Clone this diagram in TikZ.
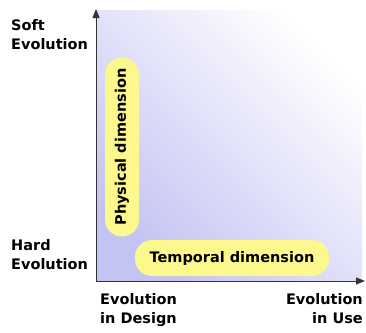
\documentclass[tikz,border=0pt]{standalone}
\usepackage{fontspec}
\setmainfont{DejaVu Sans}
\usepackage{xcolor}
\usetikzlibrary{arrows.meta,positioning,shapes.geometric,calc}
\definecolor{lav}{HTML}{C4C4F4}
\definecolor{pill}{HTML}{FCF88E}
\tikzset{
  axislbl/.style={font=\bfseries\fontsize{14.5}{19}\selectfont, align=left, inner sep=0pt},
  dimpill/.style={rectangle, rounded corners=17pt, fill=pill,
                  font=\bfseries\fontsize{14.5}{16}\selectfont, inner sep=0pt},
  axisline/.style={draw=black!80, line width=1pt, -{Triangle[length=9pt,width=7pt]}},
}

\begin{document}
\begin{tikzpicture}[x=1pt, y=-1pt]
    \useasboundingbox (0,0) rectangle (366,332);
    % background of the plane
    \shade[shading=axis, top color=white, bottom color=lav, shading angle=-45]
      (97,10) rectangle (362,281);
    \coordinate (O) at (96,281);
    \coordinate (ytop) at (96,9);
    \coordinate (xend) at (365,281);
    \draw[axisline] (O) -- (ytop);
    \draw[axisline] (O) -- (xend);
    % the two dimensions
    \node[dimpill, rotate=90, minimum width=179pt, minimum height=34pt] (phys) at (122,147) {Physical dimension};
    \node[dimpill, minimum width=194pt, minimum height=36pt] (temp) at (232,258) {Temporal dimension};
    % axis labels
    \node[axislbl, anchor=north west] (soft) at (11,19) {Soft\\Evolution};
    \node[axislbl, anchor=north west] (hard) at (11,239) {Hard\\Evolution};
    \node[axislbl, anchor=north west] (design) at (100,293) {Evolution\\in Design};
    \node[axislbl, anchor=north east, align=right] (use) at (363,293) {Evolution\\in Use};
  \end{tikzpicture}
\end{document}
